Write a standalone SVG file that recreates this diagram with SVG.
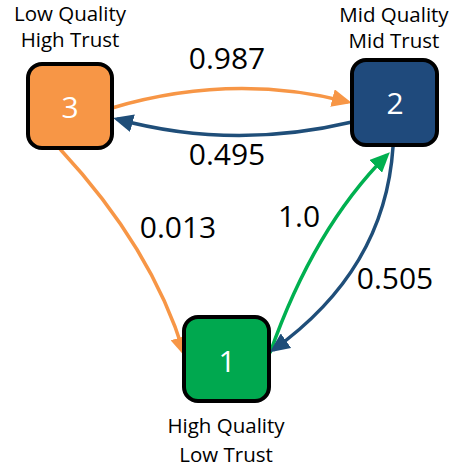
<svg xmlns="http://www.w3.org/2000/svg" width="452" height="470" viewBox="0 0 452 470">
<style>
.box{stroke:#000;stroke-width:4}
.num{font-family:"Open Sans","Liberation Sans",sans-serif;font-size:30px;fill:#fff;text-anchor:middle}
.lbl{font-family:"Open Sans","Liberation Sans",sans-serif;font-size:20.5px;fill:#000;text-anchor:middle}
.w{font-family:"Open Sans","Liberation Sans",sans-serif;font-size:30px;fill:#000;text-anchor:middle}
.e{fill:none;stroke-width:3.5}
</style>
<defs>
<marker id="aO" markerUnits="userSpaceOnUse" viewBox="0 0 20 18" markerWidth="20" markerHeight="18" refX="16" refY="9" orient="auto"><path d="M0,0 L20,9 L0,18 z" fill="#F79646"/></marker>
<marker id="aB" markerUnits="userSpaceOnUse" viewBox="0 0 20 18" markerWidth="20" markerHeight="18" refX="16" refY="9" orient="auto"><path d="M0,0 L20,9 L0,18 z" fill="#1F4E79"/></marker>
<marker id="aG" markerUnits="userSpaceOnUse" viewBox="0 0 20 18" markerWidth="20" markerHeight="18" refX="16" refY="9" orient="auto"><path d="M0,0 L20,9 L0,18 z" fill="#00B050"/></marker>
</defs>
<g id="connectors">
<path class="e" d="M112,108 Q232,72.5 348,102" stroke="#F79646" marker-end="url(#aO)"/>
<path class="e" d="M352,122 Q232,150.5 117,119" stroke="#1F4E79" marker-end="url(#aB)"/>
<path class="e" d="M60,149 Q152,248 184,353" stroke="#F79646" marker-end="url(#aO)"/>
<path class="e" d="M270,353 Q314,228 387,155" stroke="#00B050" marker-end="url(#aG)"/>
<path class="e" d="M393,147 Q385,270 273,350" stroke="#1F4E79" marker-end="url(#aB)"/>
<text class="w" x="227" y="69">0.987</text>
<text class="w" x="227" y="165">0.495</text>
<text class="w" x="178" y="238">0.013</text>
<text class="w" x="299" y="227">1.0</text>
<text class="w" x="395" y="289">0.505</text>
</g>
<g id="node3">
<rect class="box" x="28" y="64" width="84" height="84" rx="14" fill="#F79646"/>
<text class="num" x="70" y="118">3</text>
<text class="lbl" x="70" y="21">Low Quality</text>
<text class="lbl" x="70" y="47">High Trust</text>
</g>
<g id="node2">
<rect class="box" x="352" y="60" width="85" height="85" rx="14" fill="#1F4A7C"/>
<text class="num" x="395" y="114">2</text>
<text class="lbl" x="394" y="22">Mid Quality</text>
<text class="lbl" x="394" y="48">Mid Trust</text>
</g>
<g id="node1">
<rect class="box" x="184" y="317" width="85" height="84" rx="14" fill="#00A84F"/>
<text class="num" x="227" y="372">1</text>
<text class="lbl" x="226" y="433">High Quality</text>
<text class="lbl" x="226" y="462">Low Trust</text>
</g>
</svg>
